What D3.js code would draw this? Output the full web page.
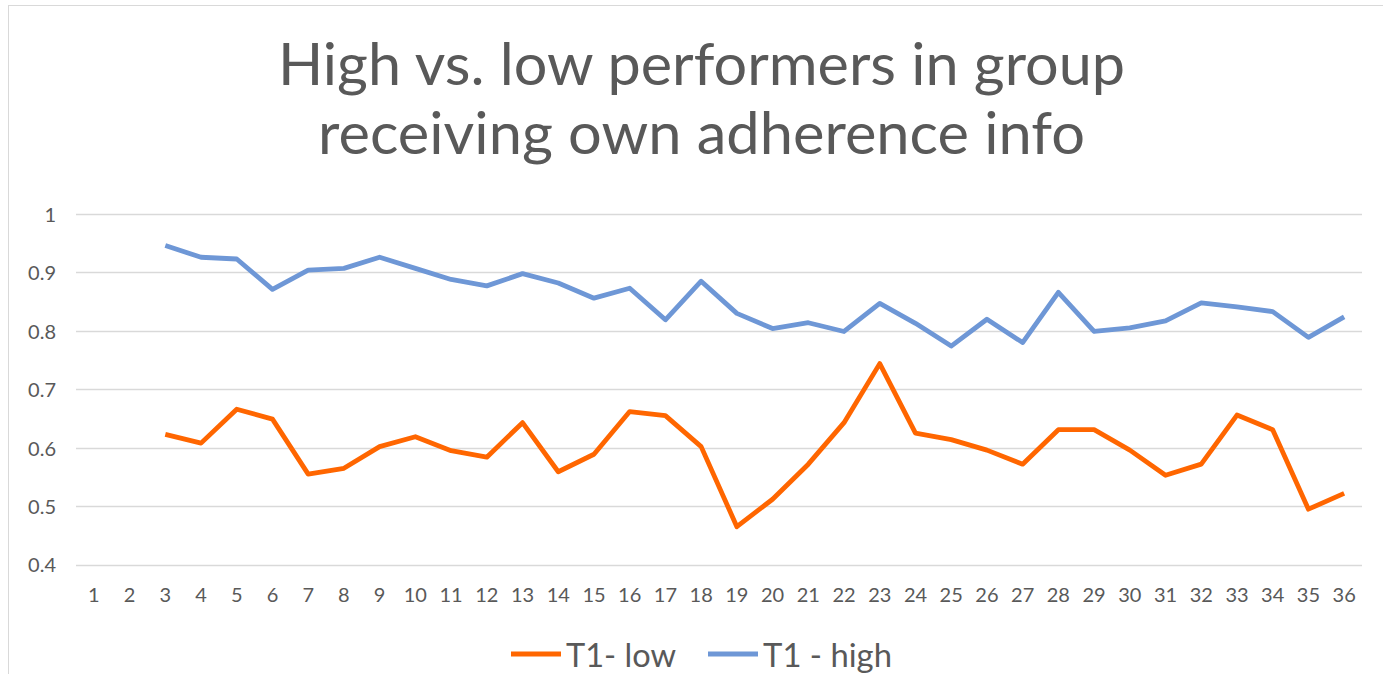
<!DOCTYPE html>
<html>
<head>
<meta charset="utf-8">
<script src="https://cdn.jsdelivr.net/npm/d3@7/dist/d3.min.js"></script>
<style>
  html, body { margin: 0; padding: 0; background: #fff; }
  svg { display: block; }
</style>
</head>
<body>
<svg id="chart" width="1383" height="674"></svg>
<script>
const categories = d3.range(1, 37).map(String);
const lowValues = [null, null, 0.623, 0.608, 0.666, 0.649, 0.555, 0.565, 0.602, 0.619,
  0.595, 0.584, 0.643, 0.559, 0.589, 0.662, 0.655, 0.602, 0.465, 0.512,
  0.572, 0.643, 0.744, 0.625, 0.614, 0.596, 0.572, 0.631, 0.631, 0.596,
  0.553, 0.572, 0.656, 0.631, 0.495, 0.522];
const highValues = [null, null, 0.946, 0.926, 0.923, 0.871, 0.904, 0.907, 0.926, 0.907,
  0.888, 0.877, 0.898, 0.882, 0.856, 0.873, 0.819, 0.885, 0.830, 0.804,
  0.814, 0.799, 0.847, 0.813, 0.774, 0.820, 0.780, 0.866, 0.799, 0.805,
  0.817, 0.848, 0.841, 0.833, 0.789, 0.824];
const yTicks = [0.4, 0.5, 0.6, 0.7, 0.8, 0.9, 1];
const seriesNames = ["T1- low", "T1 - high"];
const seriesColors = ["#FF6600", "#6E97D6"];
const titleLines = ["High vs. low performers in group", "receiving own adherence info"];

const svg = d3.select("#chart");
const textColor = "#595959";
const font = "Lato, 'Open Sans', sans-serif";

// chart frame
svg.append("rect").attr("x", 8.5).attr("y", 5.5).attr("width", 1500).attr("height", 800)
  .attr("fill", "none").attr("stroke", "#d9d9d9").attr("stroke-width", 1);

const x = d3.scaleBand().domain(categories).range([76, 1362]).paddingInner(0).paddingOuter(0);
const y = d3.scaleLinear().domain([0.4, 1]).range([564.7, 214]);

// gridlines
svg.append("g").selectAll("line").data(yTicks).join("line")
  .attr("x1", 76).attr("x2", 1362)
  .attr("y1", d => Math.round(y(d)) + 0.5).attr("y2", d => Math.round(y(d)) + 0.5)
  .attr("stroke", "#d9d9d9").attr("stroke-width", 1.3);

// y axis labels
const yAxis = d3.axisLeft(y).tickValues(yTicks).tickSize(0).tickPadding(0)
  .tickFormat(d => d3.format("")(+d.toFixed(1)));
const gy = svg.append("g").attr("transform", "translate(56,0)").call(yAxis);
gy.select(".domain").remove();
gy.selectAll("text").attr("font-family", font).attr("font-size", 20).attr("fill", textColor).attr("dy", "0.36em");

// x axis labels
const xAxis = d3.axisBottom(x).tickSize(0).tickPadding(0);
const gx = svg.append("g").attr("transform", "translate(0,588)").call(xAxis);
gx.select(".domain").remove();
gx.selectAll("text").attr("font-family", font).attr("font-size", 20).attr("fill", textColor).attr("dy", "0.71em");

// lines
const line = d3.line()
  .defined(d => d.v !== null)
  .x(d => x(d.c) + x.bandwidth() / 2)
  .y(d => y(d.v))
  .curve(d3.curveLinear);

const series = [lowValues, highValues];
series.forEach((vals, i) => {
  const data = categories.map((c, j) => ({ c, v: vals[j] }));
  svg.append("path").datum(data)
    .attr("d", line)
    .attr("fill", "none")
    .attr("stroke", seriesColors[i])
    .attr("stroke-width", 4.8)
    .attr("stroke-linejoin", "round")
    .attr("stroke-linecap", "butt");
});

// title
const titleSpecs = [{ y: 85, w: 847 }, { y: 154, w: 767 }];
titleLines.forEach((t, i) => {
  svg.append("text").text(t)
    .attr("x", 701.5).attr("y", titleSpecs[i].y)
    .attr("text-anchor", "middle")
    .attr("font-family", font).attr("font-size", 59).attr("font-weight", 400)
    .attr("fill", textColor)
    .attr("textLength", titleSpecs[i].w).attr("lengthAdjust", "spacingAndGlyphs");
});

// legend
const legendSpecs = [{ lx: 511, tx: 566, tw: 110 }, { lx: 708, tx: 763, tw: 129 }];
seriesNames.forEach((n, i) => {
  const s = legendSpecs[i];
  svg.append("line").attr("x1", s.lx).attr("x2", s.lx + 50)
    .attr("y1", 654).attr("y2", 654)
    .attr("stroke", seriesColors[i]).attr("stroke-width", 4.8);
  svg.append("text").text(n)
    .attr("x", s.tx).attr("y", 667)
    .attr("font-family", font).attr("font-size", 33)
    .attr("fill", textColor)
    .attr("textLength", s.tw).attr("lengthAdjust", "spacingAndGlyphs");
});
</script>
</body>
</html>
